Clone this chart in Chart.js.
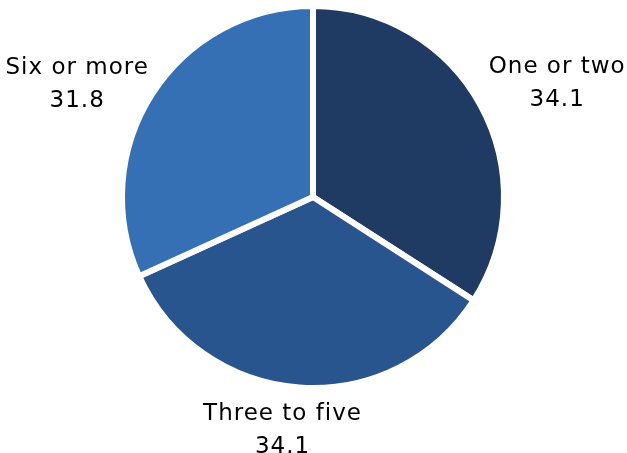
<!DOCTYPE html>
<html>
  <head>
    <title>Household size</title>
    <meta charset="UTF-8" />
    <style>
      body { margin: 0; background: #ffffff; }
      #app { width: 627px; height: 453px; }
    </style>
  </head>

  <body>
    <div id="app">
      <canvas id="myChartPie"></canvas>
    </div>
<script src="https://cdn.jsdelivr.net/npm/chart.js@4"></script>
<script>

    var categories = ['One or two', 'Three to five', 'Six or more'];
    var shares = [34.1, 34.1, 31.8];
    var colors = ['#1f3b64', '#29558f', '#3570b5'];

    // labels outside each slice: name on the first line, value below
    var outsideLabels = {
	id: 'outsideLabels',
	afterDatasetsDraw: function(chart, args, opts) {
	    var ctx = chart.ctx;
	    var meta = chart.getDatasetMeta(0);
	    var lineH = 33;
	    ctx.save();
	    ctx.font = '23px "DejaVu Sans"';
	    ctx.letterSpacing = '1px';
	    ctx.fillStyle = '#000000';
	    ctx.textAlign = 'center';
	    ctx.textBaseline = 'middle';
	    meta.data.forEach(function(arc, i) {
		var p = arc.getProps(['x', 'y', 'startAngle', 'endAngle', 'outerRadius'], true);
		var mid = (p.startAngle + p.endAngle) / 2;
		var dx = Math.cos(mid);
		var dy = Math.sin(mid);
		var lines = [chart.data.labels[i], chart.data.datasets[0].data[i].toFixed(1)];
		var w = Math.max.apply(null, lines.map(function(t) { return ctx.measureText(t).width; }));
		var h = lines.length * lineH;
		var ax = p.x + dx * (p.outerRadius + 13);
		var ay = p.y + dy * (p.outerRadius + 13);
		var nudge = opts.nudge[i] || {x: 0, y: 0};
		var cx = ax + dx * w / 2 + nudge.x;
		var cy = ay + dy * h / 2 + nudge.y;
		lines.forEach(function(t, k) {
		    ctx.fillText(t, cx, cy - h / 2 + lineH * (k + 0.5));
		});
	    });
	    ctx.restore();
	}
    };

    var config_pie = {
	type: 'pie',
	data: {
	    labels: categories,
	    datasets: [{
		data: shares,
		backgroundColor: colors,
		borderColor: '#ffffff',
		borderWidth: 6
	    }]
	},
	options: {
	    responsive: true,
	    maintainAspectRatio: false,
	    animation: false,
	    radius: 191,
	    layout: {
		padding: { top: 0, bottom: 59, left: 0, right: 1 }
	    },
	    plugins: {
		legend: { display: false },
		tooltip: { enabled: false },
		outsideLabels: {
		    // small best-fit shifts of the label blocks
		    nudge: [{x: 5, y: 0}, {x: -10, y: -3}, {x: -4, y: 16}]
		}
	    }
	},
	plugins: [outsideLabels]
    };

    var myChartPie = new Chart(
	document.getElementById('myChartPie'),
	config_pie
    );
</script>

</body>
</html>
